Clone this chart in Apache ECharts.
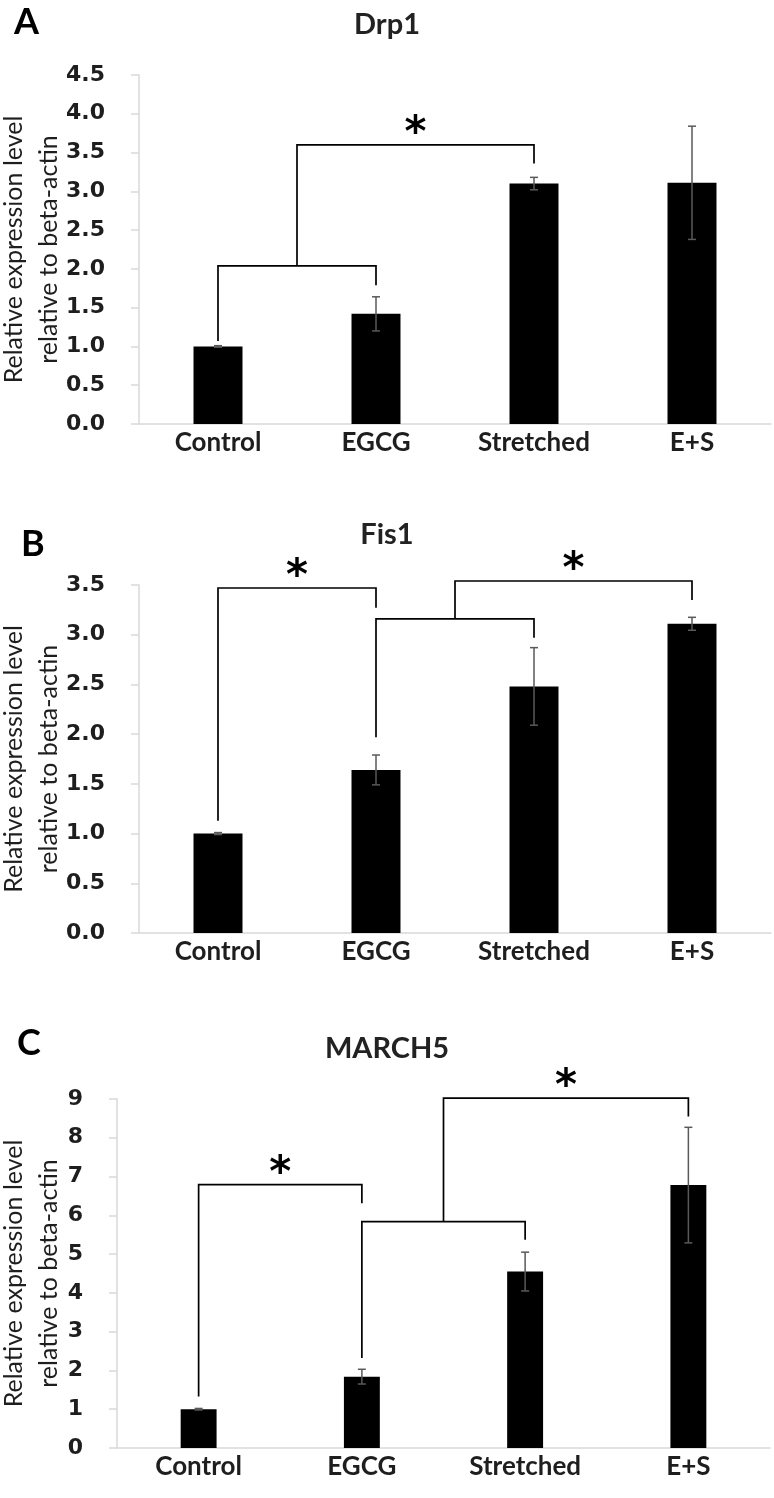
<!DOCTYPE html>
<html>
<head>
<meta charset="utf-8">
<script src="https://cdn.jsdelivr.net/npm/echarts@6/dist/echarts.min.js"></script>
<style>
html,body{margin:0;padding:0;background:#fff;}
#chart{width:774px;height:1498px;}
</style>
</head>
<body>
<div id="chart"></div>
<script>
// ---- data ----
const categories = ['Control', 'EGCG', 'Stretched', 'E+S'];

const drp1Mean = [1.00, 1.42, 3.10, 3.11];
const drp1Err  = [0.01, 0.22, 0.08, 0.73];
const fis1Mean = [1.00, 1.64, 2.48, 3.11];
const fis1Err  = [0.01, 0.15, 0.39, 0.065];
const march5Mean = [1.00, 1.84, 4.55, 6.78];
const march5Err  = [0.02, 0.19, 0.50, 1.49];

const panelTitles = ['Drp1', 'Fis1', 'MARCH5'];
const panelLetters = ['A', 'B', 'C'];
const yAxisName = 'Relative expression level\nrelative to beta-actin';
const yMax = [4.5, 3.5, 9];
const yInterval = [0.5, 0.5, 1];

// significance brackets: from/to = category index or 'bN' (stem of bracket N)
const drp1Brackets = [
  {from: 0, to: 1, y: 2.04, fromEnd: 1.07, toEnd: 1.79, star: false},
  {from: 'b0', to: 2, y: 3.60, toEnd: 3.36, star: true}
];
const fis1Brackets = [
  {from: 0, to: 1, y: 3.47, fromEnd: 1.13, toEnd: 3.27, star: true},
  {from: 1, to: 2, y: 3.16, fromEnd: 1.97, toEnd: 2.97, star: false},
  {from: 'b1', to: 3, y: 3.54, toEnd: 3.35, star: true}
];
const march5Brackets = [
  {from: 0, to: 1, y: 6.79, fromEnd: 1.33, toEnd: 6.31, star: true},
  {from: 1, to: 2, y: 5.84, fromEnd: 2.32, toEnd: 5.37, star: false},
  {from: 'b1', to: 3, y: 9.02, toEnd: 8.55, star: true}
];

// ---- layout ----
const means = [drp1Mean, fis1Mean, march5Mean];
const errs = [drp1Err, fis1Err, march5Err];
const brackets = [drp1Brackets, fis1Brackets, march5Brackets];
const grids = [
  {left: 139, right: 3, top: 75, height: 349, outerBoundsMode: 'none', containLabel: false},
  {left: 139, right: 3, top: 585, height: 348, outerBoundsMode: 'none', containLabel: false},
  {left: 117, right: 4, top: 1099, height: 349, outerBoundsMode: 'none', containLabel: false}
];
const barWidths = ['31%', '31%', '22%'];
const nameCenterX = 31;
const titleTops = [5, 515, 1029];
const letterPos = [{left: 9, top: -1}, {left: 16, top: 521}, {left: 12, top: 1020}];

const textColor = '#1e1e1e';
const axisGray = '#d9d9d9';

function errRender(params, api) {
  const x = api.coord([api.value(0), api.value(1)])[0];
  const yLo = api.coord([api.value(0), api.value(1)])[1];
  const yHi = api.coord([api.value(0), api.value(2)])[1];
  const hw = 4;
  const st = {stroke: '#595959', lineWidth: 1.5};
  return {type: 'group', children: [
    {type: 'line', shape: {x1: x, y1: yLo, x2: x, y2: yHi}, style: st},
    {type: 'line', shape: {x1: x - hw, y1: yLo, x2: x + hw, y2: yLo}, style: st},
    {type: 'line', shape: {x1: x - hw, y1: yHi, x2: x + hw, y2: yHi}, style: st}
  ]};
}

function bracketRender(list) {
  return function (params, api) {
    const stems = [];
    const children = [];
    list.forEach(function (b, i) {
      const yLine = api.coord([0, b.y])[1];
      let x1, y1;
      if (typeof b.from === 'string') {
        const j = +b.from.slice(1);
        x1 = stems[j];
        y1 = api.coord([0, list[j].y])[1];
      } else {
        x1 = api.coord([b.from, 0])[0];
        y1 = api.coord([0, b.fromEnd])[1];
      }
      const x2 = api.coord([b.to, 0])[0];
      const y2 = api.coord([0, b.toEnd])[1];
      stems[i] = (x1 + x2) / 2;
      children.push({
        type: 'polyline',
        shape: {points: [[x1, y1], [x1, yLine], [x2, yLine], [x2, y2]]},
        style: {stroke: '#000', lineWidth: 1.7, fill: 'none'}
      });
      if (b.star) {
        children.push({
          type: 'text',
          style: {
            text: '*', x: (x1 + x2) / 2, y: yLine - 10,
            fontFamily: 'DejaVu Sans', fontWeight: 'bold', fontSize: 42,
            fill: '#000', align: 'center', verticalAlign: 'middle'
          }
        });
      }
    });
    return {type: 'group', children: children};
  };
}

const option = {
  animation: false,
  backgroundColor: '#fff',
  title: [],
  grid: [],
  xAxis: [],
  yAxis: [],
  series: [],
  graphic: []
};

for (let p = 0; p < 3; p++) {
  option.title.push({
    text: panelTitles[p], left: 'center', top: titleTops[p],
    textStyle: {fontFamily: 'Lato', fontWeight: 'bold', fontSize: 29, color: '#222'}
  });
  option.title.push({
    text: panelLetters[p], left: letterPos[p].left, top: letterPos[p].top,
    textStyle: {fontFamily: 'Lato', fontWeight: 'bold', fontSize: 36, color: '#000'}
  });
  option.grid.push(grids[p]);
  option.graphic.push({
    type: 'text', x: nameCenterX, y: grids[p].top + grids[p].height / 2,
    rotation: Math.PI / 2, silent: true,
    style: {
      text: yAxisName, align: 'center', verticalAlign: 'middle',
      fontFamily: 'Lato', fontSize: 25, lineHeight: 35, fill: textColor
    }
  });
  option.xAxis.push({
    type: 'category', gridIndex: p, data: categories,
    axisLine: {lineStyle: {color: axisGray, width: 1.5}},
    axisTick: {show: false},
    axisLabel: {margin: 6, fontFamily: 'Lato', fontWeight: 'bold', fontSize: 26, color: textColor}
  });
  option.yAxis.push({
    type: 'value', gridIndex: p, min: 0, max: yMax[p], interval: yInterval[p],
    axisLine: {show: true, lineStyle: {color: axisGray, width: 1.5}},
    axisTick: {show: true, length: 8, lineStyle: {color: axisGray, width: 1.5}},
    splitLine: {show: false},
    axisLabel: {
      margin: 34, fontFamily: 'DejaVu Sans', fontWeight: 'bold', fontSize: 22, color: textColor,
      formatter: function (v) { return yInterval[p] < 1 ? v.toFixed(1) : String(v); }
    }
  });
  option.series.push({
    type: 'bar', xAxisIndex: p, yAxisIndex: p, data: means[p],
    barWidth: barWidths[p], itemStyle: {color: '#000'}, silent: true
  });
  option.series.push({
    type: 'custom', xAxisIndex: p, yAxisIndex: p,
    data: means[p].map(function (m, i) { return [i, m - errs[p][i], m + errs[p][i]]; }),
    encode: {x: 0, y: [1, 2]},
    renderItem: errRender, clip: false, silent: true, z: 3
  });
  option.series.push({
    type: 'custom', xAxisIndex: p, yAxisIndex: p,
    data: [[0, 0]],
    encode: {x: 0, y: 1},
    renderItem: bracketRender(brackets[p]), clip: false, silent: true, z: 4
  });
}

const chart = echarts.init(document.getElementById('chart'), null, {renderer: 'canvas'});
chart.setOption(option);
</script>
</body>
</html>
